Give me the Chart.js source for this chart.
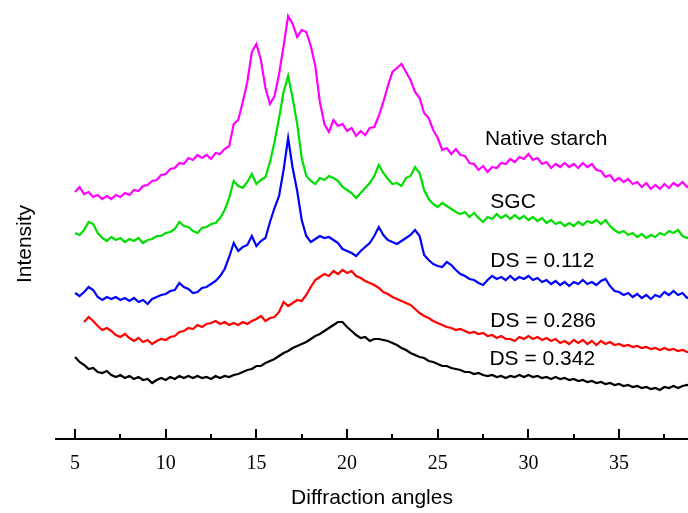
<!DOCTYPE html>
<html>
<head>
<meta charset="utf-8">
<script src="https://cdn.jsdelivr.net/npm/chart.js@4.4.1/dist/chart.umd.min.js"></script>
<style>
html,body{margin:0;padding:0;background:#fff;}
#wrap{width:688px;height:513px;}
</style>
</head>
<body>
<div id="wrap"><canvas id="c" width="688" height="513"></canvas></div>
<script>
// Diffraction angle (2θ) sample positions
const angles = [
5,5.25,5.5,5.75, 6,6.25,6.5,6.75, 7,7.25,7.5,7.75, 8,8.25,8.5,8.75, 9,9.25,9.5,9.75,
10,10.25,10.5,10.75, 11,11.25,11.5,11.75, 12,12.25,12.5,12.75, 13,13.25,13.5,13.75, 14,14.25,14.5,14.75,
15,15.25,15.5,15.75, 16,16.25,16.5,16.75, 17,17.25,17.5,17.75, 18,18.25,18.5,18.75, 19,19.25,19.5,19.75,
20,20.25,20.5,20.75, 21,21.25,21.5,21.75, 22,22.25,22.5,22.75, 23,23.25,23.5,23.75, 24,24.25,24.5,24.75,
25,25.25,25.5,25.75, 26,26.25,26.5,26.75, 27,27.25,27.5,27.75, 28,28.25,28.5,28.75, 29,29.25,29.5,29.75,
30,30.25,30.5,30.75, 31,31.25,31.5,31.75, 32,32.25,32.5,32.75, 33,33.25,33.5,33.75, 34,34.25,34.5,34.75,
35,35.25,35.5,35.75, 36,36.25,36.5,36.75, 37,37.25,37.5,37.75, 38,38.25,38.5,38.75, 39
];

// Intensities (arbitrary units, curves stacked with offsets as in the figure)
const nativeStarch = [
247,252,245,247, 242,244,240,243, 240,244,242,246, 244,249,248,253, 254,258,259,264,
265,270,271,276, 275,281,279,284, 281,284,280,286, 285,290,293,315, 319,337,357,387,
395,379,351,335, 343,365,393,423, 415,402,409,407, 393,373,337,315, 307,319,313,315,
308,311,303,308, 304,311,312,323, 337,353,367,371, 375,367,359,347, 341,326,321,309,
301,289,291,285, 290,284,283,276, 275,269,273,267, 272,271,276,275, 280,277,282,280,
285,279,281,275, 277,271,275,272, 276,272,275,271, 276,272,275,269, 268,262,264,258,
261,257,260,255, 257,252,256,250, 254,250,255,251, 256,253,257,252, 255
];
const sgc = [
206,204,209,217, 215,206,201,198, 202,199,201,197, 200,198,201,196, 199,200,203,203,
206,207,210,217, 213,212,208,206, 211,212,215,216, 221,229,241,258, 253,251,257,265,
255,259,262,277, 297,321,347,363, 341,315,281,263, 258,255,261,259, 263,261,258,252,
249,246,241,246, 251,256,263,274, 266,260,255,256, 253,261,263,272, 266,249,240,235,
232,236,233,230, 227,225,227,222, 226,221,217,222, 220,225,221,224, 220,224,220,223,
219,222,218,221, 216,219,215,217, 213,216,213,217, 214,218,216,219, 215,219,213,209,
206,208,204,206, 202,205,201,204, 202,206,204,208, 206,209,203,201, 203
];
const ds0112 = [
146,143,147,152, 149,142,139,142, 140,142,139,141, 138,141,137,139, 135,140,142,144,
145,148,149,156, 152,150,146,147, 151,152,155,158, 163,170,182,196, 188,192,194,203,
193,198,201,217, 231,243,269,301, 271,248,219,203, 197,200,203,201, 202,199,196,190,
188,186,183,188, 192,196,203,212, 204,199,197,195, 198,201,204,209, 203,184,179,175,
173,172,177,174, 169,165,163,160, 159,156,154,159, 163,160,162,159, 163,159,162,160,
163,159,161,157, 159,155,158,154, 157,153,157,155, 159,155,157,154, 158,160,153,148,
147,144,146,142, 145,141,144,140, 144,142,147,144, 148,144,146,141, 143
];
const ds0286 = [
null,null,117,122, 118,113,109,111, 108,104,102,105, 101,98,101,97, 99,95,98,100,
99,102,103,107, 108,111,110,114, 112,115,116,118, 115,117,114,116, 114,117,115,118,
120,123,118,121, 122,127,137,133, 136,139,138,144, 152,159,162,165, 163,168,165,169,
166,168,163,161, 158,156,154,151, 147,145,142,140, 138,136,134,130, 126,123,121,118,
116,114,112,111, 109,110,108,106, 107,105,106,103, 104,101,103,100, 100,98,102,100,
103,100,102,99, 101,98,100,96, 98,95,99,96, 99,95,98,94, 98,95,97,94,
95,93,94,92, 93,91,92,90, 91,89,91,89, 90,88,89,87, 87
];
const ds0342 = [
82,77,74,70, 71,67,66,68, 64,62,64,61, 63,60,62,59, 60,56,59,61,
59,62,60,63, 61,63,61,63, 61,62,60,63, 61,63,62,64, 65,67,69,70,
73,73,76,78, 80,83,86,88, 91,93,95,97, 100,103,105,108, 111,114,117,117,
112,108,104,101, 102,98,100,100, 99,98,96,94, 91,89,86,84, 82,81,78,77,
75,73,73,71, 70,69,67,67, 65,66,64,63, 64,62,63,61, 63,62,64,62,
64,62,63,61, 62,60,62,60, 61,59,60,58, 59,57,58,56, 57,55,56,54,
55,53,54,52, 53,51,52,50, 51,49,52,51, 53,51,53,54, 53
];

const seriesNames = ['Native starch', 'SGC', 'DS = 0.112', 'DS = 0.286', 'DS = 0.342'];
const seriesColors = ['#FF00FF', '#00DD00', '#0000FF', '#FF0000', '#000000'];
const seriesValues = [nativeStarch, sgc, ds0112, ds0286, ds0342];
// text label anchor (angle, intensity at baseline)
const labelAngle = [27.6, 27.9, 27.9, 27.9, 27.85];
const labelLevel = [294, 231, 172, 112, 74];
const majorTicks = [5, 10, 15, 20, 25, 30, 35];
const minorTicks = [7.5, 12.5, 17.5, 22.5, 27.5, 32.5, 37.5];

const datasets = seriesValues.map((vals, i) => ({
  label: seriesNames[i],
  data: angles.map((a, j) => ({ x: a, y: vals[j] })),
  borderColor: seriesColors[i],
  backgroundColor: seriesColors[i],
  borderWidth: 2.2,
  pointRadius: 0,
  tension: 0,
  spanGaps: false
}));

const sans = '"Liberation Sans", Arial, sans-serif';

const decor = {
  id: 'decor',
  afterDraw(chart) {
    const ctx = chart.ctx;
    const xs = chart.scales.x, ys = chart.scales.y;
    const base = chart.chartArea.bottom;
    ctx.save();
    ctx.strokeStyle = '#000';
    ctx.lineWidth = 2;
    ctx.beginPath();
    majorTicks.forEach(v => { const px = Math.round(xs.getPixelForValue(v)); ctx.moveTo(px, base); ctx.lineTo(px, base - 10); });
    minorTicks.forEach(v => { const px = Math.round(xs.getPixelForValue(v)); ctx.moveTo(px, base); ctx.lineTo(px, base - 5); });
    ctx.stroke();
    ctx.fillStyle = '#000';
    ctx.font = '21px ' + sans;
    ctx.textAlign = 'left';
    ctx.textBaseline = 'alphabetic';
    seriesNames.forEach((n, i) => {
      ctx.fillText(n, xs.getPixelForValue(labelAngle[i]), ys.getPixelForValue(labelLevel[i]));
    });
    // y-axis title
    ctx.translate(chart.chartArea.left - 31, ys.getPixelForValue(195));
    ctx.rotate(-Math.PI / 2);
    ctx.textAlign = 'center';
    ctx.textBaseline = 'middle';
    ctx.fillText('Intensity', 0, 0);
    ctx.restore();
  }
};

new Chart(document.getElementById('c'), {
  type: 'line',
  data: { datasets },
  options: {
    responsive: false,
    animation: false,
    events: [],
    layout: { padding: { left: 56, right: 0, top: 0, bottom: 0 } },
    plugins: { legend: { display: false }, tooltip: { enabled: false } },
    scales: {
      x: {
        type: 'linear',
        min: 3.95,
        max: 38.8,
        afterFit(scale) { scale.height = 74; },
        grid: { display: false, drawTicks: false },
        border: { display: true, color: '#000', width: 2 },
        ticks: {
          stepSize: 5,
          includeBounds: false,
          padding: 13,
          color: '#000',
          font: { family: '"Liberation Serif", "Times New Roman", serif', size: 20 }
        },
        title: {
          display: true,
          text: 'Diffraction angles',
          color: '#000',
          font: { family: sans, size: 21 },
          padding: { top: 0, bottom: 2 }
        }
      },
      y: {
        display: false,
        min: 0,
        max: 439
      }
    }
  },
  plugins: [decor]
});
</script>
</body>
</html>
